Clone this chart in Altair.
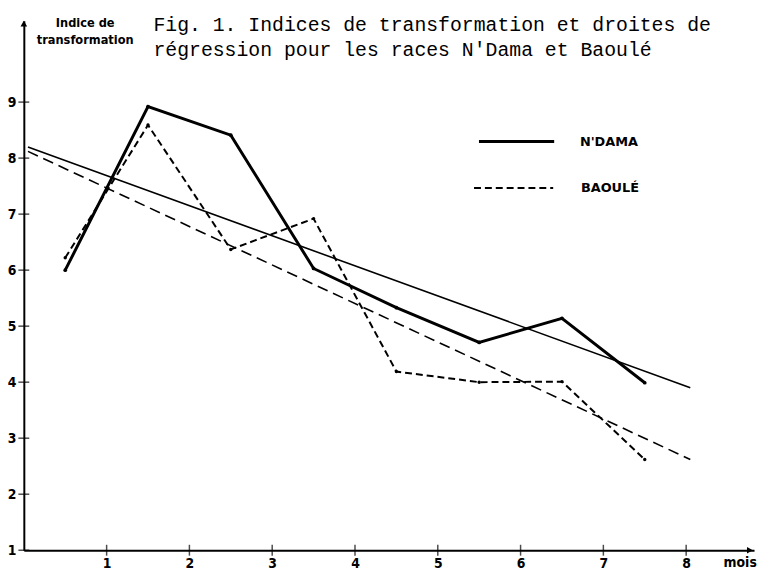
import altair as alt
import pandas as pd

# ---- data ----
mois = [0.5, 1.5, 2.5, 3.5, 4.5, 5.5, 6.5, 7.5]
ndama = [6.0, 8.92, 8.41, 6.03, 5.33, 4.71, 5.14, 3.99]
baoule = [6.22, 8.59, 6.37, 6.92, 4.19, 4.0, 4.01, 2.62]
reg_mois = [0.05, 8.05]
reg_ndama = [8.2, 3.9]
reg_baoule = [8.12, 2.62]
x_ticks = [1, 2, 3, 4, 5, 6, 7, 8]
y_ticks = [1, 2, 3, 4, 5, 6, 7, 8, 9]
title_lines = ["Fig. 1. Indices de transformation et droites de",
               "régression pour les races N'Dama et Baoulé"]
ytitle_lines = ["Indice de", "transformation"]

X_MAX = 8.82
Y_MIN, Y_MAX = 1, 10.45
LBL_FONT = "DejaVu Sans Condensed"
LEG_FONT = "DejaVu Sans"
MONO = "Liberation Mono"

xs = alt.Scale(domain=[0, X_MAX], nice=False, zero=False)
ys = alt.Scale(domain=[Y_MIN, Y_MAX], nice=False, zero=False)

df = pd.DataFrame({"mois": mois, "ndama": ndama, "baoule": baoule})
reg = pd.DataFrame({"mois": reg_mois, "ndama": reg_ndama, "baoule": reg_baoule})
one = pd.DataFrame({"k": [0]})

x_axis = alt.Axis(values=x_ticks, title=None, grid=False, domain=True,
                  domainColor="black", domainWidth=2, ticks=False,
                  labelFont=LBL_FONT, labelFontWeight="bold", labelFontSize=14,
                  labelColor="black", labelPadding=6, labelFlush=False, format="d")
y_axis = alt.Axis(values=y_ticks, title=None, grid=False, domain=True,
                  domainColor="black", domainWidth=2, ticks=False,
                  labelFont=LBL_FONT, labelFontWeight="bold", labelFontSize=14,
                  labelColor="black", labelPadding=8, labelFlush=False, format="d")

ndama_line = alt.Chart(df).mark_line(color="black", strokeWidth=3).encode(
    x=alt.X("mois:Q", scale=xs, axis=x_axis),
    y=alt.Y("ndama:Q", scale=ys, axis=y_axis),
)
ndama_pts = alt.Chart(df).mark_circle(color="black", size=14, opacity=1).encode(
    x="mois:Q", y="ndama:Q")
baoule_line = alt.Chart(df).mark_line(color="black", strokeWidth=2, strokeDash=[7, 4]).encode(
    x="mois:Q", y="baoule:Q")
baoule_pts = alt.Chart(df).mark_circle(color="black", size=12, opacity=1).encode(
    x="mois:Q", y="baoule:Q")
reg_n = alt.Chart(reg).mark_line(color="black", strokeWidth=1.6).encode(
    x="mois:Q", y="ndama:Q")
reg_b = alt.Chart(reg).mark_line(color="black", strokeWidth=1.6, strokeDash=[11, 6]).encode(
    x="mois:Q", y="baoule:Q")

yt = pd.DataFrame({"v": y_ticks})
xt = pd.DataFrame({"v": x_ticks})
ytick = alt.Chart(yt).mark_tick(orient="horizontal", color="black", size=11, thickness=1.5).encode(
    x=alt.datum(0), y="v:Q")
xtick = alt.Chart(xt).mark_tick(orient="vertical", color="black", size=11, thickness=1.5).encode(
    x="v:Q", y=alt.datum(Y_MIN))

arrow_up = alt.Chart(one).mark_point(shape="triangle-up", filled=True, color="black",
                                     size=45, opacity=1).encode(
    x=alt.datum(0), y=alt.datum(Y_MAX - 0.05))
arrow_right = alt.Chart(one).mark_point(shape="triangle-right", filled=True, color="black",
                                        size=45, opacity=1).encode(
    x=alt.datum(X_MAX - 0.05), y=alt.datum(Y_MIN))

title = alt.Chart(one).mark_text(font=MONO, fontSize=20, align="left", baseline="alphabetic",
                                 lineHeight=25, color="black").encode(
    x=alt.value(131), y=alt.value(10), text=alt.value(title_lines))
ytitle = alt.Chart(one).mark_text(font=LBL_FONT, fontWeight="bold", fontSize=12.8, align="center",
                                  baseline="alphabetic", lineHeight=17, color="black").encode(
    x=alt.value(62), y=alt.value(6), text=alt.value(ytitle_lines))
mois_lbl = alt.Chart(one).mark_text(font=LBL_FONT, fontWeight="bold", fontSize=14, align="center",
                                    baseline="middle", color="black").encode(
    x=alt.value(724), y=alt.value(548), text=alt.value("mois"))

leg_n_line = alt.Chart(one).mark_rule(color="black", strokeWidth=3).encode(
    x=alt.value(460), x2=alt.value(536), y=alt.value(122))
leg_b_line = alt.Chart(one).mark_rule(color="black", strokeWidth=2, strokeDash=[7, 4]).encode(
    x=alt.value(455), x2=alt.value(535), y=alt.value(169))
leg_n_txt = alt.Chart(one).mark_text(font=LEG_FONT, fontWeight="bold", fontSize=13, align="left",
                                     baseline="middle", color="black").encode(
    x=alt.value(562), y=alt.value(122), text=alt.value("N'DAMA"))
leg_b_txt = alt.Chart(one).mark_text(font=LEG_FONT, fontWeight="bold", fontSize=13, align="left",
                                     baseline="middle", color="black").encode(
    x=alt.value(563), y=alt.value(169), text=alt.value("BAOULÉ"))

chart = alt.layer(
    ndama_line, reg_n, reg_b, baoule_line, ndama_pts, baoule_pts,
    ytick, xtick, arrow_up, arrow_right,
    title, ytitle, mois_lbl, leg_n_line, leg_b_line, leg_n_txt, leg_b_txt,
).properties(
    width=738, height=535,
    autosize=alt.AutoSizeParams(type="none"),
    padding={"left": 16, "top": 10, "right": 4, "bottom": 20},
    background="white",
).configure_view(stroke=None)

chart.save("out.html", embed_options={"renderer": "svg", "actions": False})
